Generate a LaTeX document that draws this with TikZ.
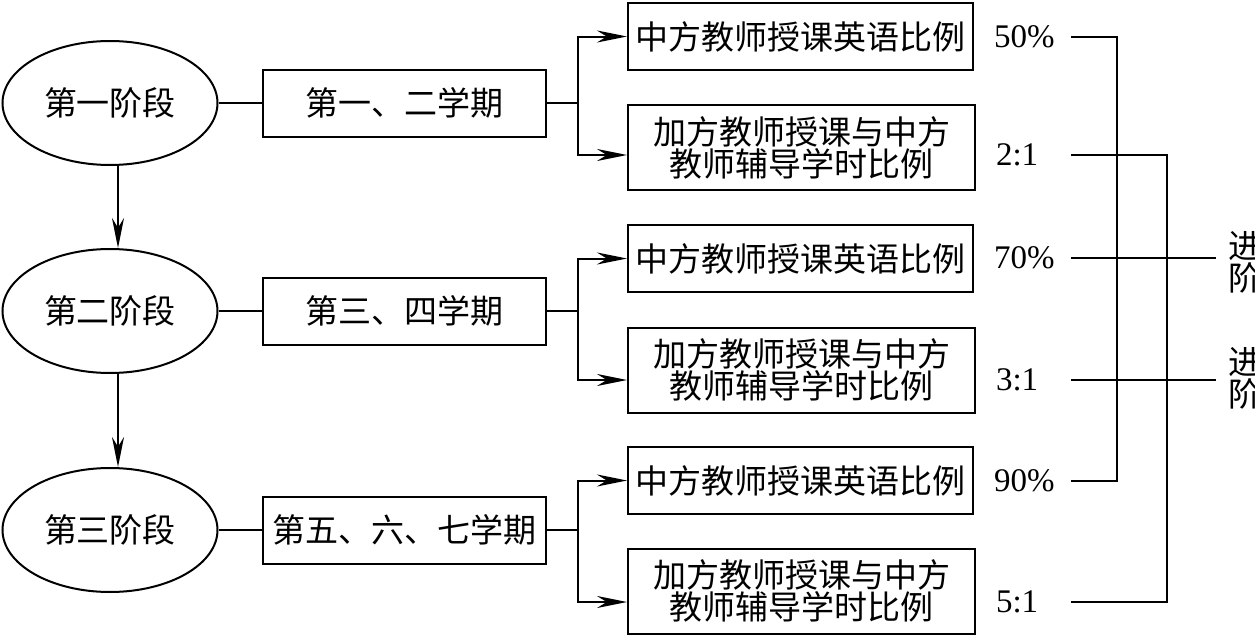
\documentclass[tikz,border=0pt]{standalone}
\usepackage{fontspec}
\setmainfont{Liberation Serif}
\newfontfamily\cjk{Noto Sans CJK SC}
\usetikzlibrary{positioning}
\usetikzlibrary{arrows.meta,shapes.geometric}
\newcommand{\cjkfs}{\cjk\fontsize{16.5}{16}\selectfont}
\newcommand{\numfs}{\fontsize{16.5}{19}\selectfont}
\tikzset{
    flow/.style={>={Stealth[length=15pt,width=6pt]},line width=1pt,
                     x=0.5pt,y=-0.5pt},
    stage/.style={ellipse,draw,minimum width=107.5pt,minimum height=62pt,
                     inner sep=0pt,font=\cjkfs},
    term/.style={rectangle,draw,minimum width=141.5pt,minimum height=33.5pt,
                     inner sep=0pt,font=\cjkfs},
    share/.style={rectangle,draw,minimum width=172.5pt,minimum height=33.5pt,
                     inner sep=0pt,font=\cjkfs},
    ratio/.style={rectangle,draw,minimum width=173.5pt,minimum height=42.5pt,
                     inner sep=0pt,align=center,font=\cjkfs},
    val/.style={anchor=west,inner sep=0pt,font=\numfs},
    note/.style={anchor=west,inner sep=0pt,align=left,font=\cjkfs},
    }

\begin{document}
\begin{tikzpicture}[flow]
            \useasboundingbox (0,0) rectangle (1255,637);

            % stages and terms
            \node[stage] (s1) at (110,103) {第一阶段};
            \node[stage] (s2) at (110,311) {第二阶段};
            \node[stage] (s3) at (110,530) {第三阶段};
            \node[term] (t1) at (404.5,103) {第一、二学期};
            \node[term] (t2) at (404.5,311) {第三、四学期};
            \node[term] (t3) at (404.5,530) {第五、六、七学期};

            % proportions
            \node[share] (a1) at (800.5,36.5) {中方教师授课英语比例};
            \node[ratio] (b1) at (801.5,147.5) {加方教师授课与中方\\教师辅导学时比例};
            \node[share] (a2) at (800.5,258.5) {中方教师授课英语比例};
            \node[ratio] (b2) at (801.5,370) {加方教师授课与中方\\教师辅导学时比例};
            \node[share] (a3) at (800.5,480.5) {中方教师授课英语比例};
            \node[ratio] (b3) at (801.5,591) {加方教师授课与中方\\教师辅导学时比例};

            \node[val] (v1) at (993,37) {50\%};
            \node[val] (v2) at (995,155) {2:1};
            \node[val] (v3) at (993,258) {70\%};
            \node[val] (v4) at (995,380) {3:1};
            \node[val] (v5) at (993,481) {90\%};
            \node[val] (v6) at (995,602) {5:1};

            \node[note] (n1) at (1227,262) {进\\阶};
            \node[note] (n2) at (1227,378) {进\\阶};

            \coordinate (lx) at (1071,0);
            \coordinate (bx) at (1117,0);
            \coordinate (cx) at (1167,0);
            \coordinate (ex) at (1216,0);

            \draw[->] ([xshift=4pt]s1.south) -- ([xshift=4pt]s2.north);
            \draw[->] ([xshift=4pt]s2.south) -- ([xshift=4pt]s3.north);
            \draw (s1.east) -- (t1.west);
            \draw (s2.east) -- (t2.west);
            \draw (s3.east) -- (t3.west);

            \draw[->] (t1.east) -- ++(31,0) |- (a1.west);
            \draw[->] (t1.east) -- ++(31,0) |- ([yshift=-3.75pt]b1.west);
            \draw[->] (t2.east) -- ++(31,0) |- (a2.west);
            \draw[->] (t2.east) -- ++(31,0) |- ([yshift=-5pt]b2.west);
            \draw[->] (t3.east) -- ++(31,0) |- (a3.west);
            \draw[->] (t3.east) -- ++(31,0) |- ([yshift=-5.5pt]b3.west);

            \draw (v1 -| lx) -- (v1 -| bx) -- (v5 -| bx) -- (v5 -| lx);
            \draw (v2 -| lx) -- (v2 -| cx) -- (v6 -| cx) -- (v6 -| lx);
            \draw (v3 -| lx) -- (v3 -| ex);
            \draw (v4 -| lx) -- (v4 -| ex);
        \end{tikzpicture}
\end{document}
